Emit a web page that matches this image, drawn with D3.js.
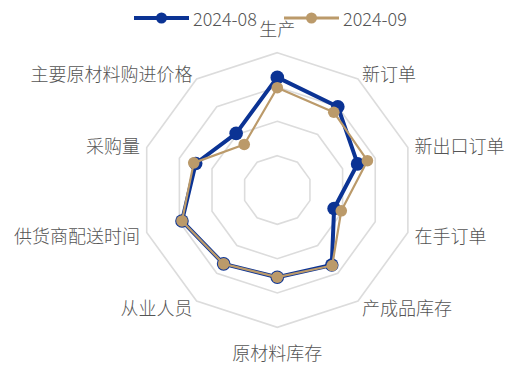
<!DOCTYPE html>
<html><head><meta charset="utf-8">
<script src="https://cdn.jsdelivr.net/npm/d3@7"></script>
<style>
html,body{margin:0;padding:0;background:#fff;}
svg{display:block;}
text{font-family:"Noto Sans CJK SC","Noto Sans",sans-serif;font-weight:300;}
</style></head>
<body>
<svg id="chart" width="508" height="367"></svg>
<script>
const categories = ["生产","新订单","新出口订单","在手订单","产成品库存","原材料库存","从业人员","供货商配送时间","采购量","主要原材料购进价格"];
const seriesNames = ["2024-08","2024-09"];
const values0808 = [51.4, 50.0, 47.3, 43.7, 48.5, 47.7, 48.3, 49.6, 47.5, 45.2];
const values0809 = [49.9, 49.0, 48.8, 44.8, 48.6, 47.7, 48.3, 49.6, 47.8, 43.2];
const ringTicks = [40, 45, 50, 55];
const domainMin = 35, domainMax = 55;
const colors = ["#0b3394", "#bb9a6a"];

const svg = d3.select("#chart");
const cx = 277.3, cy = 190, R = 137.3;
const n = categories.length;
const r = d3.scaleLinear().domain([domainMin, domainMax]).range([0, R]);
const ang = d3.scaleLinear().domain([0, n]).range([0, 2*Math.PI]);
const pt = (i, rad) => [cx + rad*Math.sin(ang(i)), cy - rad*Math.cos(ang(i))];

// grid rings
const g = svg.append("g");
ringTicks.forEach(t => {
  const pts = d3.range(n).map(i => pt(i, r(t)));
  g.append("path")
    .attr("d", d3.line()(pts) + "Z")
    .attr("fill", "none")
    .attr("stroke", "#dcdcdc")
    .attr("stroke-width", 1.6);
});

// labels
categories.forEach((c, i) => {
  const a = ang(i);
  const s = Math.sin(a);
  let anchor = Math.abs(s) < 0.01 ? "middle" : (s > 0 ? "start" : "end");
  let p;
  if (Math.abs(s) < 0.01) {
    p = pt(i, R + 25);
  } else {
    p = pt(i, R + 7);
  }
  svg.append("text")
    .attr("x", p[0]).attr("y", p[1])
    .attr("text-anchor", anchor)
    .attr("dominant-baseline", "central")
    .attr("font-size", 18)
    .attr("fill", "#555")
    .text(c);
});

// series
const data = [values0808, values0809];
const widths = [4, 2.2];
const radii = [6.8, 5.8];
data.forEach((vals, k) => {
  const pts = vals.map((v, i) => pt(i, r(v)));
  const sg = svg.append("g");
  sg.append("path")
    .attr("d", d3.line()(pts) + "Z")
    .attr("fill", "none")
    .attr("stroke", colors[k])
    .attr("stroke-width", widths[k])
    .attr("stroke-linejoin", "round");
  sg.selectAll("circle").data(pts).join("circle")
    .attr("cx", d => d[0]).attr("cy", d => d[1])
    .attr("r", radii[k])
    .attr("fill", colors[k]);
});

// legend
const legendX = [134, 284];
seriesNames.forEach((name, k) => {
  const lg = svg.append("g").attr("transform", `translate(${legendX[k]},18)`);
  lg.append("line").attr("x1", 0).attr("x2", 55).attr("y1", 0).attr("y2", 0)
    .attr("stroke", colors[k]).attr("stroke-width", k === 0 ? 4 : 3);
  lg.append("circle").attr("cx", 27.5).attr("cy", 0).attr("r", 5.5).attr("fill", colors[k]);
  lg.append("text").attr("x", 59).attr("y", 0)
    .attr("dominant-baseline", "central")
    .attr("font-size", 18).attr("fill", "#555").text(name);
});
</script>
</body></html>
